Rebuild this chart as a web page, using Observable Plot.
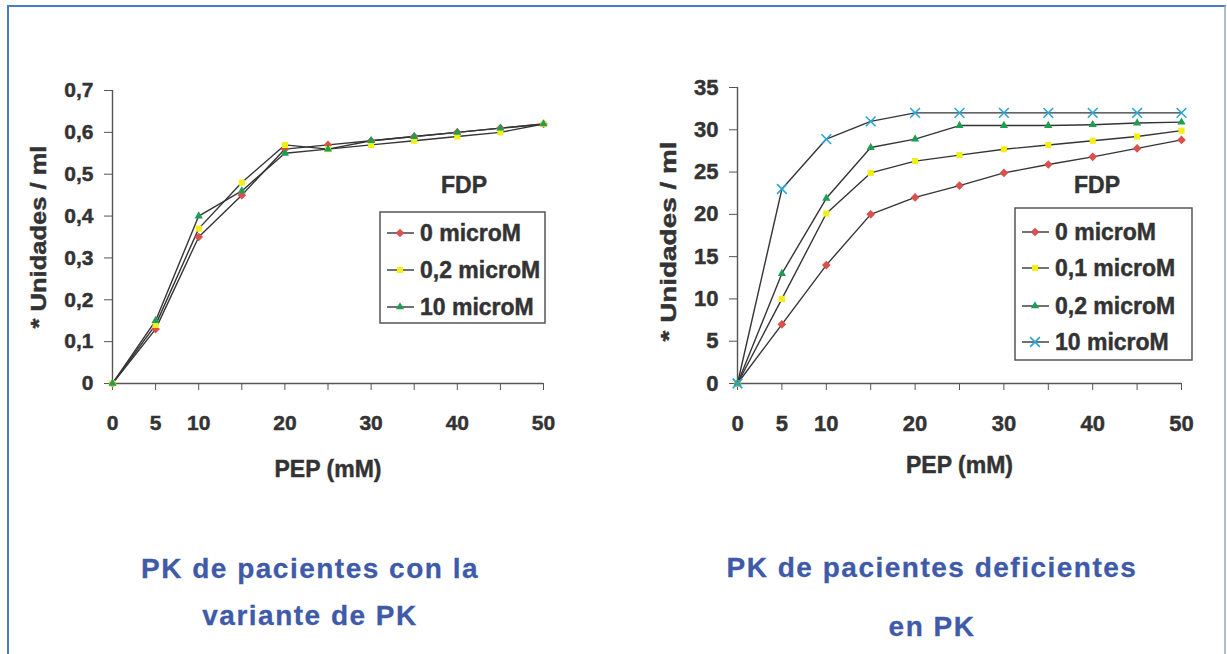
<!DOCTYPE html>
<html>
<head>
<meta charset="utf-8">
<script src="https://cdn.jsdelivr.net/npm/d3@7"></script>
<script src="https://cdn.jsdelivr.net/npm/@observablehq/plot@0.6"></script>
<style>
  html, body { margin: 0; padding: 0; background: #fff; }
  body { position: relative; width: 1227px; height: 654px; overflow: hidden;
         font-family: "Liberation Sans", Arial, sans-serif; }
  #frame { position: absolute; left: 7px; top: 5px; width: 1215px; height: 720px;
           border: 2px solid #4b7bc4; border-right-color: #a9bcd8; border-bottom: none; }
  .panel { position: absolute; top: 0; }
  .panel svg text, .legend svg text { stroke: #333; stroke-width: 0.45px; }
  .title { position: absolute; transform: translateX(-50%); white-space: nowrap;
           color: #3e5aa8; font-weight: bold; font-size: 28px; line-height: 28px; letter-spacing: 1.5px;
           -webkit-text-stroke: 0.3px #3e5aa8; }
  .fdp { position: absolute; transform: translateX(-50%); color: #333; font-weight: bold;
         font-size: 23px; line-height: 23px; -webkit-text-stroke: 0.45px #333; }
  .legend { position: absolute; }
</style>
</head>
<body>
<div id="frame"></div>
<div id="left" class="panel" style="left:0px"></div>
<div id="right" class="panel" style="left:613px"></div>

<div class="fdp" style="left:464px; top:174px">FDP</div>
<div class="fdp" style="left:1097px; top:174px">FDP</div>

<div class="title" style="left:310px; top:555px">PK de pacientes con la</div>
<div class="title" style="left:310px; top:602px">variante de PK</div>
<div class="title" style="left:932px; top:554px">PK de pacientes deficientes</div>
<div class="title" style="left:932px; top:613px">en PK</div>

<div id="legendLeft" class="legend" style="left:379px; top:211px"></div>
<div id="legendRight" class="legend" style="left:1014px; top:207px"></div>

<script>
// PEP concentration (mM) on the x axis
const pep = [0, 5, 10, 15, 20, 25, 30, 35, 40, 45, 50];
const xTicks = [0, 5, 10, 15, 20, 25, 30, 35, 40, 45, 50];
const xTickLabels = [0, 5, 10, 20, 30, 40, 50];

// Left panel: PK variant patients (units / ml) by FDP concentration
const leftNames = ["0 microM", "0,2 microM", "10 microM"];
const left0   = [0, 0.13, 0.35, 0.45, 0.56, 0.57, 0.58, 0.59, 0.60, 0.61, 0.62];
const left02  = [0, 0.14, 0.37, 0.48, 0.57, 0.56, 0.57, 0.58, 0.59, 0.60, 0.62];
const left10  = [0, 0.15, 0.40, 0.46, 0.55, 0.56, 0.58, 0.59, 0.60, 0.61, 0.62];
const leftTicks = [0, 0.1, 0.2, 0.3, 0.4, 0.5, 0.6, 0.7];

// Right panel: PK deficient patients (units / ml) by FDP concentration
const rightNames = ["0 microM", "0,1 microM", "0,2 microM", "10 microM"];
const right0  = [0, 7, 14, 20, 22, 23.4, 24.9, 25.9, 26.8, 27.8, 28.8];
const right01 = [0, 10, 20.1, 24.9, 26.3, 27, 27.7, 28.2, 28.7, 29.2, 29.9];
const right02 = [0, 13, 21.9, 27.9, 28.9, 30.5, 30.5, 30.5, 30.6, 30.8, 30.9];
const right10 = [0, 23, 28.9, 31, 32, 32, 32, 32, 32, 32, 32];
const rightTicks = [0, 5, 10, 15, 20, 25, 30, 35];

// Marker style per FDP level
const leftMarkerStyles = {
  "0 microM":   {symbol: "diamond2",  color: "#d9504c", filled: true},
  "0,2 microM": {symbol: "square2",   color: "#f2ee1a", filled: true},
  "10 microM":  {symbol: "triangle2", color: "#1e9e55", filled: true}
};
const rightMarkerStyles = {
  "0 microM":   {symbol: "diamond2",  color: "#d9504c", filled: true},
  "0,1 microM": {symbol: "square2",   color: "#f2ee1a", filled: true},
  "0,2 microM": {symbol: "triangle2", color: "#1e9e55", filled: true},
  "10 microM":  {symbol: "times",     color: "#2aa6d6", filled: false}
};

const INK = "#333";
const AXIS = "#555";
const FONT = "'Liberation Sans', Arial, sans-serif";

const commaFormat = d => d === 0 ? "0" : (Number.isInteger(d) ? String(d) : d.toFixed(1).replace(".", ","));

function toRows(names, series) {
  return names.flatMap((name, i) => pep.map((x, j) => ({x, y: series[i][j], s: name})));
}

function panel({names, series, styles, yDomain, yTicks, width, marginLeft, marginRight, marginTop,
                tickFont, xTickFont, yLabelDx, yLabelDy, xLabelDy, markerR}) {
  const rows = toRows(names, series);
  const dots = names.map(name => {
    const st = styles[name];
    const data = rows.filter(d => d.s === name);
    return st.filled
      ? Plot.dot(data, {x: "x", y: "y", symbol: st.symbol, fill: st.color, stroke: "none", r: markerR})
      : Plot.dot(data, {x: "x", y: "y", symbol: st.symbol, stroke: st.color, fill: "none", strokeWidth: 1.6, r: markerR + 0.6});
  });
  return Plot.plot({
    width,
    height: 654,
    marginLeft, marginRight, marginTop,
    marginBottom: 654 - 383,
    style: {background: "transparent", fontFamily: FONT, fontWeight: "bold", color: INK, overflow: "visible"},
    x: {domain: [0, 50]},
    y: {domain: yDomain},
    marks: [
      Plot.axisY({ticks: yTicks, tickFormat: commaFormat, tickSize: 8, tickPadding: 11,
                  fontSize: tickFont, fontWeight: "bold", stroke: AXIS, fill: INK, label: null}),
      Plot.axisX({ticks: xTicks, tickFormat: d => xTickLabels.includes(d) ? String(d) : "",
                  tickSize: 7, tickPadding: 25, fontSize: xTickFont, fontWeight: "bold",
                  stroke: AXIS, fill: INK, label: null}),
      Plot.ruleX([0], {stroke: AXIS, strokeWidth: 1.4}),
      Plot.ruleY([0], {stroke: AXIS, strokeWidth: 1.4}),
      Plot.line(rows, {x: "x", y: "y", z: "s", stroke: "#353535", strokeWidth: 1.4}),
      ...dots,
      Plot.text(["* Unidades / ml"], {frameAnchor: "left", textAnchor: "middle", dx: yLabelDx, dy: yLabelDy,
                rotate: -90, fontSize: 22, fontWeight: "bold", fill: INK, className: "ylab"}),
      Plot.text(["PEP (mM)"], {frameAnchor: "bottom", dy: xLabelDy,
                fontSize: 23, fontWeight: "bold", fill: INK})
    ]
  });
}

// Stretch the rotated y-axis title along its own direction to a target length
function stretchYLabel(chart, targetLength) {
  const t = chart.querySelector(".ylab text");
  if (!t) return;
  const len = t.getComputedTextLength();
  if (len > 0) {
    const base = t.getAttribute("transform") || "";
    t.setAttribute("transform", `${base} scale(${targetLength / len},1)`);
  }
}

const leftChart = panel({
  names: leftNames, series: [left0, left02, left10], styles: leftMarkerStyles,
  yDomain: [0, 0.7], yTicks: leftTicks, width: 613, marginLeft: 112, marginRight: 613 - 543, marginTop: 90,
  tickFont: 21, xTickFont: 21, yLabelDx: -74, yLabelDy: 0, xLabelDy: 93, markerR: 3.9
});
document.getElementById("left").append(leftChart);
stretchYLabel(leftChart, 183);

const rightChart = panel({
  names: rightNames, series: [right0, right01, right02, right10], styles: rightMarkerStyles,
  yDomain: [0, 35], yTicks: rightTicks, width: 614, marginLeft: 737 - 613, marginRight: 614 - (1181 - 613), marginTop: 87,
  tickFont: 22, xTickFont: 22, yLabelDx: -69, yLabelDy: 6, xLabelDy: 89, markerR: 3.9
});
document.getElementById("right").append(rightChart);
stretchYLabel(rightChart, 200);

// Legends: line sample with marker, then label
function legend(el, names, styles, rowCenters, boxW, boxH) {
  const svg = d3.select(el).append("svg").attr("width", boxW + 2).attr("height", boxH + 2);
  svg.append("rect").attr("x", 1).attr("y", 1).attr("width", boxW).attr("height", boxH)
    .attr("fill", "#fff").attr("stroke", "#555").attr("stroke-width", 1.5);
  const symbolMap = {diamond2: d3.symbolDiamond2, square2: d3.symbolSquare2,
                     triangle2: d3.symbolTriangle2, times: d3.symbolTimes};
  names.forEach((name, i) => {
    const st = styles[name];
    const cy = rowCenters[i];
    const g = svg.append("g");
    g.append("line").attr("x1", 8).attr("x2", 35).attr("y1", cy).attr("y2", cy)
      .attr("stroke", "#353535").attr("stroke-width", 1.4);
    const r = st.filled ? 3.9 : 4.5;
    const path = d3.symbol(symbolMap[st.symbol], Math.PI * r * r)();
    const p = g.append("path").attr("d", path).attr("transform", `translate(21,${cy})`);
    if (st.filled) p.attr("fill", st.color);
    else p.attr("fill", "none").attr("stroke", st.color).attr("stroke-width", 1.6);
    g.append("text").attr("x", 41).attr("y", cy).attr("dy", "0.36em")
      .attr("font-family", FONT).attr("font-weight", "bold").attr("font-size", 23)
      .attr("fill", INK).text(name);
  });
}

legend(document.getElementById("legendLeft"), leftNames, leftMarkerStyles, [22, 59, 96], 165, 111);
legend(document.getElementById("legendRight"), rightNames, rightMarkerStyles, [25, 61, 99, 135], 177, 152);
</script>
</body>
</html>
